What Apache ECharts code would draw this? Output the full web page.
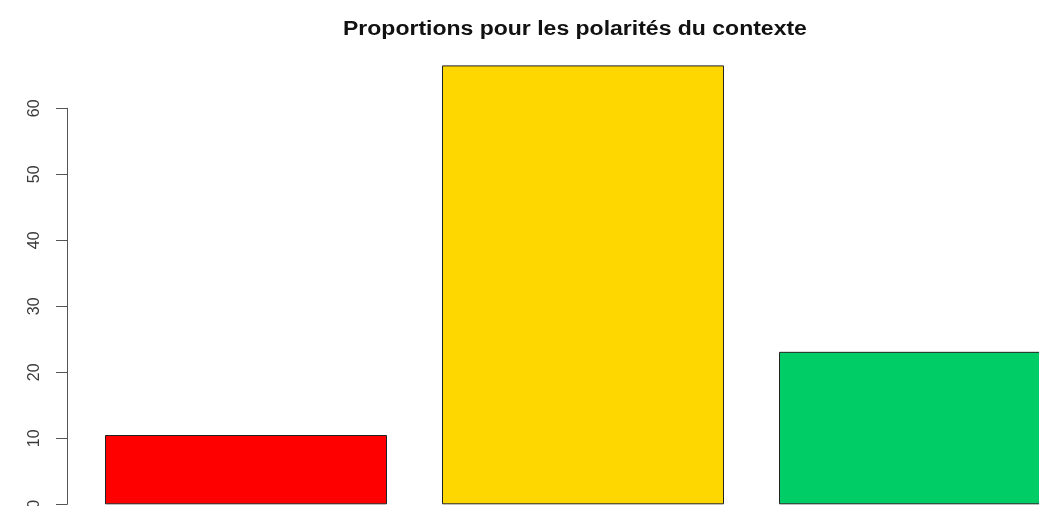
<!DOCTYPE html>
<html>
<head>
<meta charset="utf-8">
<script src="https://cdn.jsdelivr.net/npm/echarts@6/dist/echarts.min.js"></script>
<style>
  html, body { margin: 0; padding: 0; background: #fff; }
  #chart { width: 1039px; height: 506px; }
</style>
</head>
<body>
<div id="chart"></div>
<script>
var categories = ['négatif', 'neutre', 'positif'];
var values = [10.5, 66.5, 23.1];
var colors = ['#FF0000', '#FFD700', '#00CD66'];
var yTicks = [0, 10, 20, 30, 40, 50, 60];
var titleText = 'Proportions pour les polarités du contexte';

var myChart = echarts.init(document.getElementById('chart'));

var barData = [];
for (var i = 0; i < values.length; i++) {
    barData.push({ value: values[i], itemStyle: { color: colors[i] } });
}

var option = {
    animation: false,
    // titre un peu étiré comme dans l'image R
    graphic: [{
        type: 'text',
        left: 343,
        top: 19,
        scaleX: 1.15,
        style: {
            text: titleText,
            fontFamily: 'Liberation Sans',
            fontWeight: 'bold',
            fontSize: 20,
            fill: '#111'
        }
    }],
    grid: {
        left: 77.5, top: 108.3, width: 1011, bottom: 1.7,
        outerBoundsMode: 'none'
    },
    xAxis: {
        type: 'category',
        data: categories,
        show: false
    },
    yAxis: {
        type: 'value',
        min: yTicks[0],
        max: yTicks[yTicks.length - 1],
        interval: 10,
        offset: 10.5,
        splitLine: { show: false },
        axisLine: { show: true, lineStyle: { color: '#555', width: 1 } },
        axisTick: { show: true, length: 11, lineStyle: { color: '#555' } },
        axisLabel: {
            rotate: 90,
            margin: 24,
            fontFamily: 'Liberation Sans',
            fontSize: 16,
            color: '#3a3a3a'
        }
    },
    series: [{
        type: 'bar',
        data: barData,
        barWidth: 282,
        clip: false,
        itemStyle: { borderColor: '#222', borderWidth: 1 }
    }]
};

myChart.setOption(option);
</script>
</body>
</html>
